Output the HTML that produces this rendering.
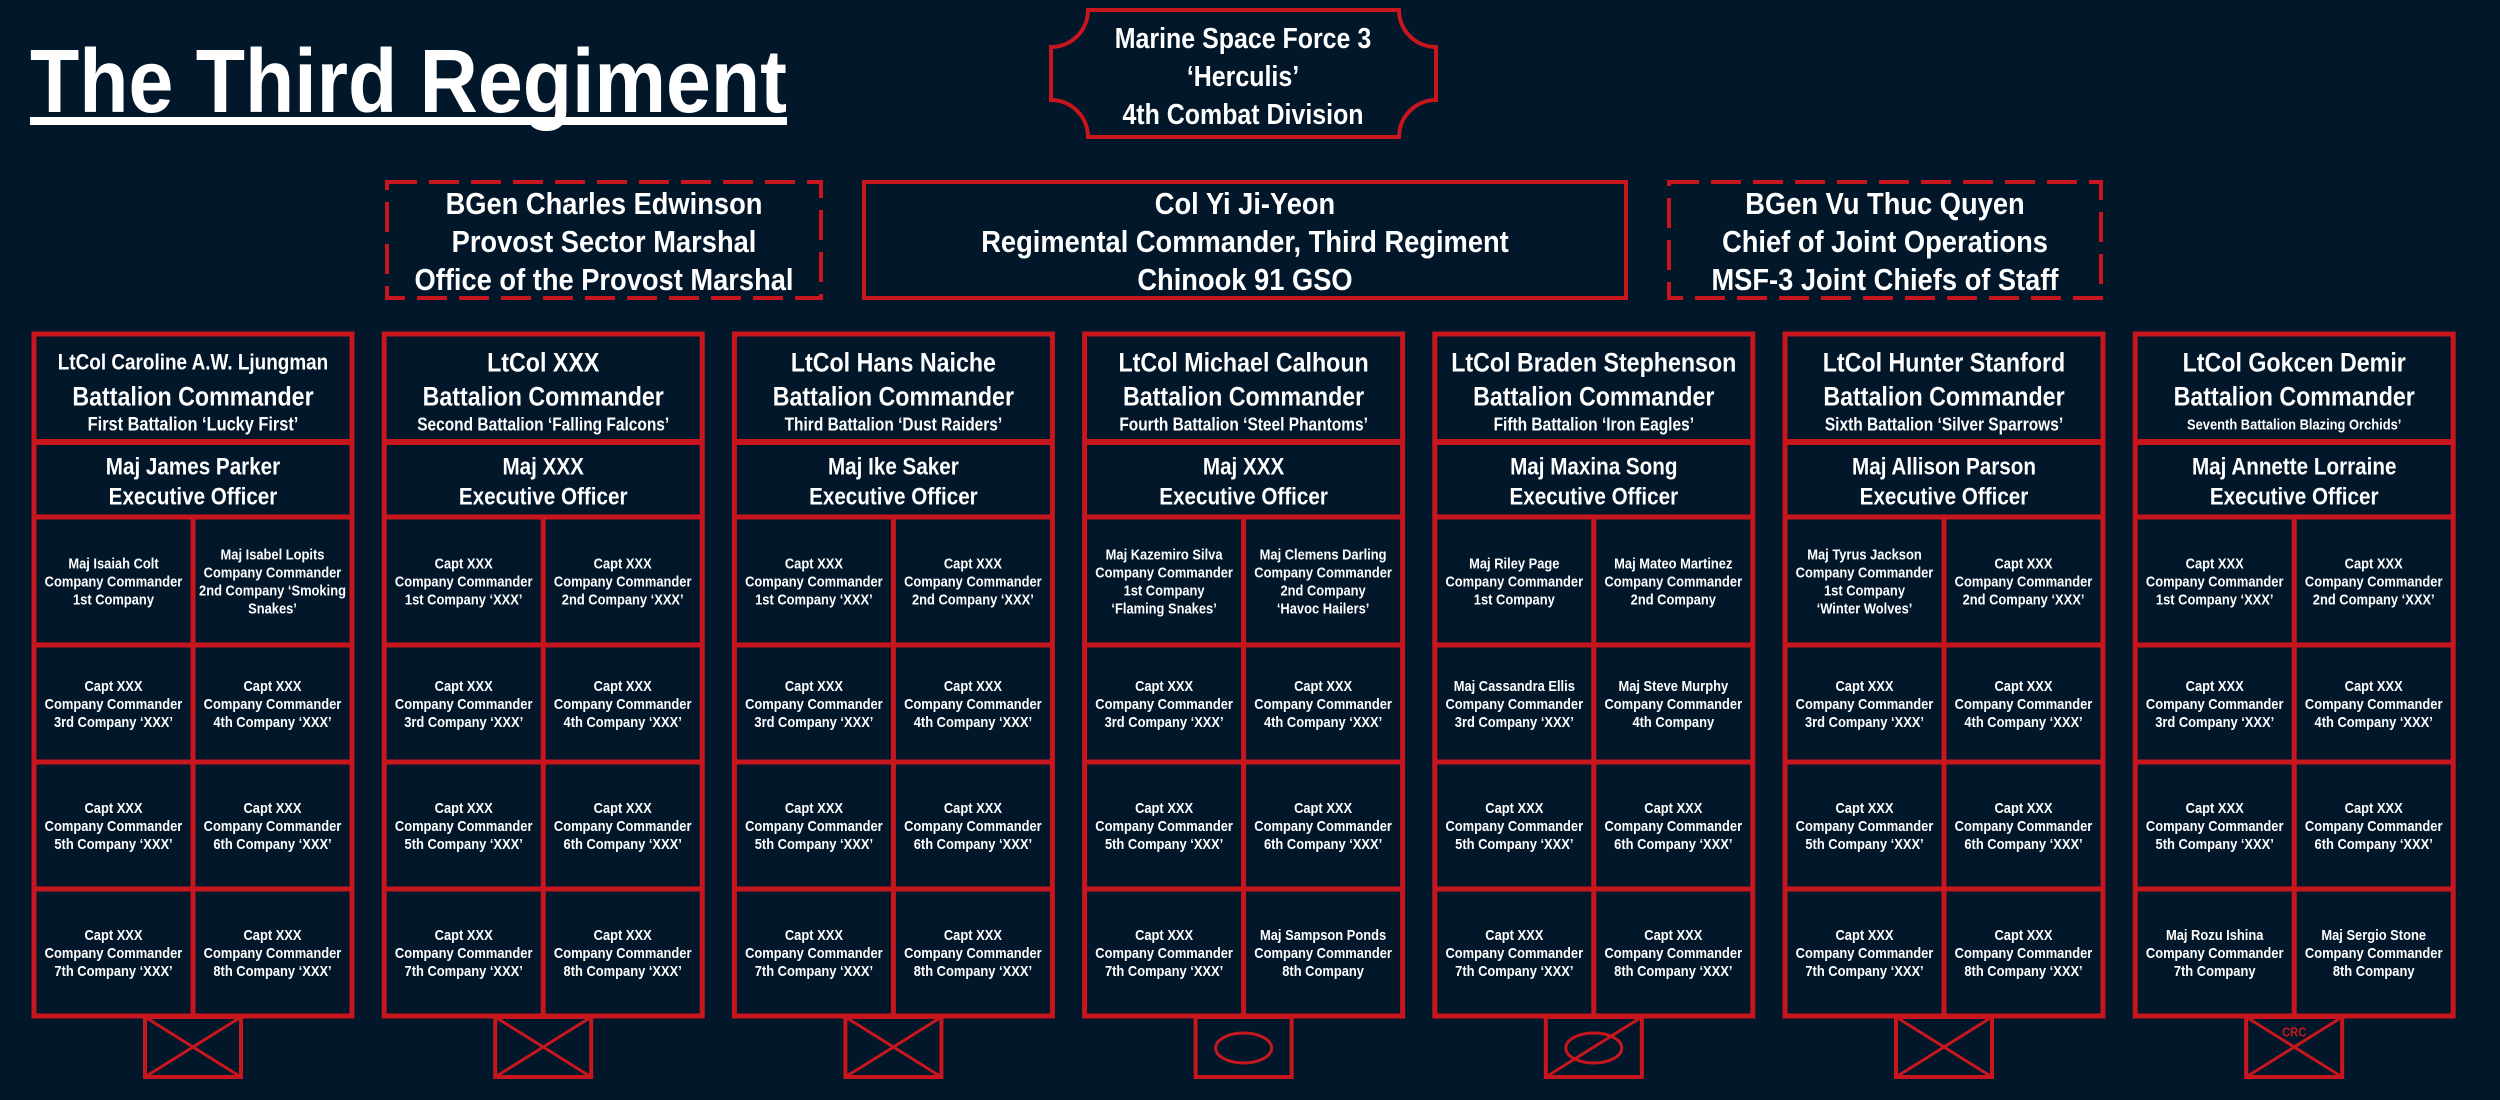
<!DOCTYPE html>
<html><head><meta charset="utf-8">
<style>
html,body{margin:0;padding:0;background:#03172a;}
svg{display:block;}
text{font-family:"Liberation Sans",sans-serif;font-weight:bold;fill:#fff;}
</style></head>
<body>
<svg id="s" width="2500" height="1100" viewBox="0 0 2500 1100" xmlns="http://www.w3.org/2000/svg">
<rect width="2500" height="1100" fill="#03172a"/>
<text x="30" y="112" font-size="90" textLength="757" lengthAdjust="spacingAndGlyphs">The Third Regiment</text>
<rect x="30" y="117" width="757" height="8" fill="#fff"/>
<path d="M1088,10 H1399 A37,37 0 0 0 1436,47 V100 A37,37 0 0 0 1399,137 H1088 A37,37 0 0 0 1051,100 V47 A37,37 0 0 0 1088,10 Z" fill="none" stroke="#c8161e" stroke-width="4"/>
<g id="g"></g>
</svg>
<script>
var R="#c8161e",g=document.getElementById('g'),NS="http://www.w3.org/2000/svg",SQ=0.86;
function el(t,a){var e=document.createElementNS(NS,t);for(var k in a)e.setAttribute(k,a[k]);g.appendChild(e);return e;}
function T(s,cx,cy,fs,col,sq){var e=el('text',{x:cx,y:cy+fs*0.35,'font-size':fs,'text-anchor':'middle'});if(col)e.style.fill=col;e.textContent=s;var L=e.getComputedTextLength();if(L>0){e.setAttribute('textLength',L*(sq||SQ));e.setAttribute('lengthAdjust','spacingAndGlyphs');}return e;}
function lines(arr,cx,cy,fs,sp,sq){var n=arr.length;for(var i=0;i<n;i++)T(arr[i],cx,cy+(i-(n-1)/2)*sp,fs,null,sq);}
lines(["Marine Space Force 3","\u2018Herculis\u2019","4th Combat Division"],1243,76,29,38);
el('rect',{x:387,y:182,width:434,height:116,fill:'none',stroke:R,'stroke-width':4,'stroke-dasharray':'30 12'});
el('rect',{x:864,y:182,width:762,height:116,fill:'none',stroke:R,'stroke-width':4});
el('rect',{x:1669,y:182,width:432,height:116,fill:'none',stroke:R,'stroke-width':4,'stroke-dasharray':'30 12'});
lines(["BGen Charles Edwinson","Provost Sector Marshal","Office of the Provost Marshal"],604,241,31,38,0.88);
lines(["Col Yi Ji-Yeon","Regimental Commander, Third Regiment","Chinook 91 GSO"],1245,241,31,38,0.88);
lines(["BGen Vu Thuc Quyen","Chief of Joint Operations","MSF-3 Joint Chiefs of Staff"],1885,241,31,38,0.88);
function capt(n){var s=["1st","2nd","3rd","4th","5th","6th","7th","8th"][n-1];return ["Capt XXX","Company Commander",s+" Company \u2018XXX\u2019"];}
var CC="Company Commander";
var cols=[
{h:["LtCol Caroline A.W. Ljungman","Battalion Commander","First Battalion \u2018Lucky First\u2019"],h1:22,h3:19,xo:"Maj James Parker",
 c:{1:["Maj Isaiah Colt",CC,"1st Company"],2:["Maj Isabel Lopits",CC,"2nd Company \u2018Smoking","Snakes\u2019"]},sym:'x'},
{h:["LtCol XXX","Battalion Commander","Second Battalion \u2018Falling Falcons\u2019"],xo:"Maj XXX",c:{},sym:'x'},
{h:["LtCol Hans Naiche","Battalion Commander","Third Battalion \u2018Dust Raiders\u2019"],xo:"Maj Ike Saker",c:{},sym:'x'},
{h:["LtCol Michael Calhoun","Battalion Commander","Fourth Battalion \u2018Steel Phantoms\u2019"],xo:"Maj XXX",
 c:{1:["Maj Kazemiro Silva",CC,"1st Company","\u2018Flaming Snakes\u2019"],2:["Maj Clemens Darling",CC,"2nd Company","\u2018Havoc Hailers\u2019"],8:["Maj Sampson Ponds",CC,"8th Company"]},sym:'o'},
{h:["LtCol Braden Stephenson","Battalion Commander","Fifth Battalion \u2018Iron Eagles\u2019"],xo:"Maj Maxina Song",
 c:{1:["Maj Riley Page",CC,"1st Company"],2:["Maj Mateo Martinez",CC,"2nd Company"],3:["Maj Cassandra Ellis",CC,"3rd Company \u2018XXX\u2019"],4:["Maj Steve Murphy",CC,"4th Company"]},sym:'os'},
{h:["LtCol Hunter Stanford","Battalion Commander","Sixth Battalion \u2018Silver Sparrows\u2019"],xo:"Maj Allison Parson",
 c:{1:["Maj Tyrus Jackson",CC,"1st Company","\u2018Winter Wolves\u2019"]},sym:'x'},
{h:["LtCol Gokcen Demir","Battalion Commander","Seventh Battalion Blazing Orchids\u2019"],h3:15,xo:"Maj Annette Lorraine",
 c:{7:["Maj Rozu Ishina",CC,"7th Company"],8:["Maj Sergio Stone",CC,"8th Company"]},sym:'crc'}
];
var rows=[517,645,762,889,1016];
cols.forEach(function(c,i){
 var L=34+i*350.2,W=318,cx=L+W/2;
 el('rect',{x:L,y:334,width:W,height:682,fill:'none',stroke:R,'stroke-width':5});
 el('line',{x1:L,y1:442,x2:L+W,y2:442,stroke:R,'stroke-width':6});
 [517,645,762,889].forEach(function(y){el('line',{x1:L,y1:y,x2:L+W,y2:y,stroke:R,'stroke-width':5});});
 el('line',{x1:cx,y1:517,x2:cx,y2:1016,stroke:R,'stroke-width':5});
 T(c.h[0],cx,362,c.h1||27);T(c.h[1],cx,396,27);T(c.h[2],cx,424,c.h3||18);
 T(c.xo,cx,466,24);T("Executive Officer",cx,496,24);
 for(var k=1;k<=8;k++){var r=Math.floor((k-1)/2),side=(k-1)%2;
  var ccx=side?cx+W/4:L+W/4,ccy=(rows[r]+rows[r+1])/2;
  lines(c.c[k]||capt(k),ccx,ccy,15,18);}
 var x0=cx-48,x1=cx+48,y0=1017,y1=1077;
 el('rect',{x:x0,y:y0,width:96,height:60,fill:'none',stroke:R,'stroke-width':4});
 if(c.sym=='x'||c.sym=='crc'){el('line',{x1:x0,y1:y0,x2:x1,y2:y1,stroke:R,'stroke-width':3});el('line',{x1:x0,y1:y1,x2:x1,y2:y0,stroke:R,'stroke-width':3});}
 if(c.sym=='o'||c.sym=='os'){el('ellipse',{cx:cx,cy:1048,rx:28,ry:15,fill:'none',stroke:R,'stroke-width':3});}
 if(c.sym=='os'){el('line',{x1:x0,y1:y1,x2:x1,y2:y0,stroke:R,'stroke-width':3});}
 if(c.sym=='crc'){T("CRC",cx,1032,13,R);}
});
</script>
</body></html>
